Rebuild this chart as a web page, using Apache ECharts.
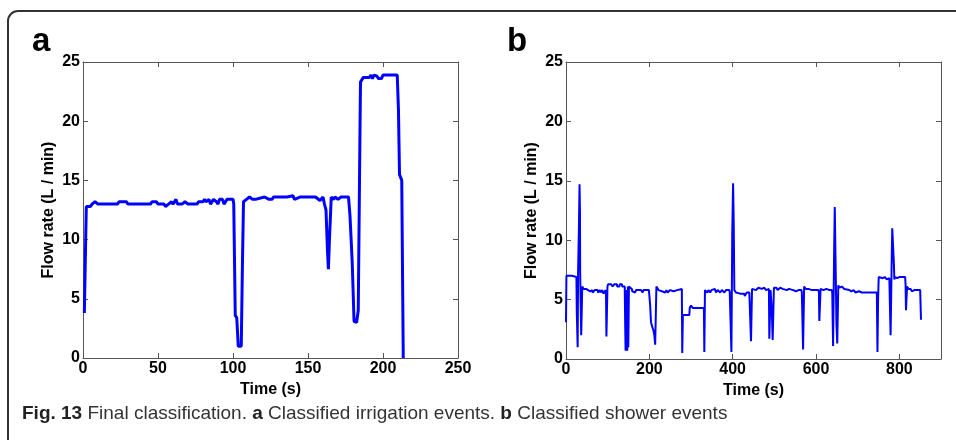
<!DOCTYPE html>
<html>
<head>
<meta charset="utf-8">
<script src="https://cdn.jsdelivr.net/npm/echarts/dist/echarts.min.js"></script>
<style>
html,body{margin:0;padding:0;background:#fff;}
#chart{width:956px;height:440px;}
</style>
</head>
<body>
<div id="chart"></div>
<script>
// ---- Data (panel a: irrigation) ----
const irrigationTime = [
  0.9, 1.5, 2.2, 5, 6, 8, 9, 10, 23, 24,
  29, 30, 45, 46, 49, 50, 54, 55, 57, 59,
  60, 62, 63, 66, 68, 70, 76, 77, 80, 81,
  82, 84, 85, 87, 89, 90, 91, 93, 94, 96,
  100, 100.5, 101.5, 102.5, 103.5, 105.5, 106.3, 107, 109, 111,
  113, 115, 121, 122, 124, 126, 127, 136, 137, 140,
  141, 143, 145, 155, 156, 158, 159, 160, 161, 162,
  163, 163.6, 164.3, 165.5, 167, 168, 170, 172, 177, 178,
  179.5, 180.7, 182.4, 183.5, 184.2, 184.6, 185, 186.9, 191, 192,
  193, 194, 196, 197, 199, 200, 209.5, 210.3, 211, 212.5,
  213.5
];
const irrigationFlow = [
  3.8, 8, 12.8, 12.8, 13.0, 13.2, 13.2, 13.0, 13.0, 13.2,
  13.2, 13.0, 13.0, 13.2, 13.2, 13.0, 13.0, 12.8, 13.0, 13.2,
  13.0, 13.4, 13.0, 13.0, 13.2, 13.0, 13.0, 13.2, 13.2, 13.4,
  13.2, 13.4, 13.0, 13.4, 13.2, 13.0, 13.4, 13.4, 13.0, 13.4,
  13.4, 13.0, 3.6, 3.4, 1.0, 1.0, 8, 13.2, 13.4, 13.6,
  13.4, 13.4, 13.6, 13.6, 13.4, 13.4, 13.6, 13.6, 13.7, 13.7,
  13.4, 13.5, 13.6, 13.6, 13.5, 13.3, 13.4, 13.6, 13.0, 12.5,
  9, 7.5, 10, 13.6, 13.4, 13.6, 13.4, 13.6, 13.6, 12,
  8, 3.1, 3.0, 4.0, 4.0, 18.5, 23.3, 23.7, 23.7, 23.9,
  23.6, 23.9, 23.8, 23.6, 23.6, 23.9, 23.9, 21, 15.5, 15.0,
  0
];

// ---- Data (panel b: shower) ----
const showerTime = [
  0, 1, 14, 15, 25, 26, 28, 29, 31, 32.5,
  33.5, 34, 35.5, 36.5, 38.5, 39, 41, 42, 48, 49,
  53, 54, 58, 59, 63, 64, 68, 69, 76, 77,
  80, 81, 83, 86, 87, 90, 92, 95, 96, 97,
  98.5, 99.5, 101, 105, 108, 112, 116, 122, 123, 128,
  129, 134, 135, 141, 142, 143, 144, 145, 146, 147,
  148.5, 149.5, 151, 153, 158, 159, 162, 166, 168, 173,
  174, 180, 184, 186, 194, 195, 199, 200, 202, 204,
  207, 210, 212, 214, 216, 217, 219, 222, 226, 230,
  234, 238, 241, 244, 250, 251, 258, 259, 267, 268,
  278, 279, 280.5, 296, 297, 300, 303, 304, 331, 332,
  333.5, 338, 339, 342, 346, 349, 353, 357, 360, 364,
  370, 374, 380, 384, 392, 393, 396, 397, 399, 401,
  402.5, 404, 406, 408, 412, 418, 428, 429, 434, 437,
  440, 443, 444, 445.5, 446.5, 450, 456, 462, 470, 476,
  480, 487, 488, 490, 491, 493, 494, 496, 498, 499,
  505, 508, 514, 520, 530, 535, 545, 552, 558, 565,
  566, 568, 569, 570.5, 571.5, 575, 582, 590, 598, 606,
  607, 608, 610, 611, 618, 625, 632, 638, 639, 641,
  642.5, 643.5, 645, 646.5, 647.5, 649, 651, 652.5, 653.5, 656,
  662, 668, 672, 680, 685, 690, 695, 703, 710, 720,
  730, 741, 746, 747.5, 749, 750.5, 760, 765, 770, 776,
  778, 779, 780.5, 782, 783, 785.5, 787, 788, 790, 795,
  800, 814, 815, 816, 817.5, 818.5, 822, 827, 830, 836,
  841, 845, 850, 851, 852
];
const showerFlow = [
  3.1, 7.0, 7.0, 6.9, 6.9, 3.8, 1.0, 7.3, 11, 14.7,
  12.5, 7.3, 7.2, 2.0, 2.0, 6.1, 6.1, 5.9, 5.9, 5.8,
  5.8, 5.7, 5.7, 5.8, 5.8, 5.6, 5.6, 5.8, 5.8, 5.6,
  5.6, 5.8, 5.6, 5.6, 5.8, 5.5, 5.6, 5.8, 5.6, 1.9,
  1.9, 6.1, 6.3, 6.2, 6.3, 6.1, 6.3, 6.3, 6.1, 6.1,
  6.3, 6.3, 6.1, 6.1, 3, 0.7, 5.2, 0.8, 5.8, 0.7,
  6.1, 1.0, 6.1, 6.0, 5.9, 5.7, 5.8, 5.6, 5.8, 5.8,
  5.7, 5.8, 5.6, 5.8, 5.8, 5.9, 5.8, 5.8, 4.5, 3.1,
  2.7, 2.4, 2.0, 1.2, 1.2, 6.1, 6.0, 5.8, 5.9, 5.7,
  5.8, 5.6, 5.8, 5.6, 5.8, 5.7, 5.7, 5.8, 5.8, 5.9,
  5.9, 0.5, 3.7, 3.7, 4.3, 4.5, 4.5, 4.3, 4.3, 0.6,
  5.8, 5.8, 5.6, 5.8, 5.6, 5.8, 5.7, 5.9, 5.6, 5.8,
  5.6, 5.8, 5.6, 5.8, 5.8, 5.6, 5.6, 0.6, 10.5, 14.8,
  11.5, 5.8, 5.8, 5.6, 5.6, 5.5, 5.5, 5.3, 5.6, 5.5,
  5.6, 5.5, 1.5, 1.5, 5.9, 6.0, 5.8, 6.0, 5.9, 6.0,
  5.8, 5.9, 1.7, 1.7, 5.8, 5.9, 4, 1.6, 1.6, 6.0,
  6.0, 5.8, 6.0, 5.9, 5.8, 5.9, 5.8, 5.7, 5.8, 5.8,
  5.6, 5.6, 0.8, 0.8, 6.1, 5.9, 5.9, 5.8, 5.8, 5.8,
  5.6, 3.2, 3.2, 5.9, 5.8, 5.9, 5.8, 5.8, 5.6, 1.1,
  1.1, 9, 12.8, 12.8, 7, 3, 1.3, 1.3, 6.2, 6.0,
  6.1, 5.9, 5.8, 5.8, 5.7, 5.8, 5.6, 5.7, 5.6, 5.6,
  5.6, 5.6, 5.6, 0.6, 5.0, 6.9, 6.8, 6.9, 6.7, 6.8,
  6.8, 2.0, 2.0, 9, 11.0, 11.0, 8, 6.7, 6.9, 6.8,
  6.9, 6.9, 6.2, 4.1, 4.1, 6.1, 5.9, 5.9, 5.7, 5.8,
  5.8, 5.7, 5.8, 5.8, 3.3
];

const xTicksA = {min: 0, max: 250, interval: 50};
const xTicksB = {min: 0, max: 900, interval: 200};
const yTicks = {min: 0, max: 25, interval: 5};

const panelLabels = ['a', 'b'];
const xTitle = 'Time (s)';
const yTitle = 'Flow rate (L / min)';
const caption = '{b|Fig. 13} Final classification. {b|a} Classified irrigation events. {b|b} Classified shower events';

// ---- Build ----
const pair = (xs, ys) => xs.map((x, i) => [x, ys[i]]);
const FONT = 'Liberation Sans, Arial, sans-serif';
const axisCol = '#555';

function xAx(grid, ticks, top) {
  return {
    gridIndex: grid, type: 'value', position: top ? 'top' : 'bottom',
    min: ticks.min, max: ticks.max, interval: ticks.interval,
    axisLine: {show: true, onZero: false, lineStyle: {color: axisCol, width: 1}},
    axisTick: {show: true, inside: true, length: 5, lineStyle: {color: axisCol}},
    splitLine: {show: false},
    axisLabel: top ? {show: false} : {show: true, color: '#000', fontWeight: 'bold', fontSize: 16, fontFamily: FONT, margin: 3, showMaxLabel: ticks.max % ticks.interval === 0},
    name: top ? '' : xTitle, nameLocation: 'middle', nameGap: 23,
    nameTextStyle: {color: '#000', fontWeight: 'bold', fontSize: 16, fontFamily: FONT}
  };
}
function yAx(grid, right) {
  return {
    gridIndex: grid, type: 'value', position: right ? 'right' : 'left',
    min: yTicks.min, max: yTicks.max, interval: yTicks.interval,
    axisLine: {show: true, onZero: false, lineStyle: {color: axisCol, width: 1}},
    axisTick: {show: true, inside: true, length: 5, lineStyle: {color: axisCol}},
    splitLine: {show: false},
    axisLabel: right ? {show: false} : {show: true, color: '#000', fontWeight: 'bold', fontSize: 16, fontFamily: FONT, margin: 3},
    name: right ? '' : yTitle, nameLocation: 'middle', nameGap: 26,
    nameTextStyle: {color: '#000', fontWeight: 'bold', fontSize: 16, fontFamily: FONT}
  };
}

const chart = echarts.init(document.getElementById('chart'), null, {renderer: 'canvas'});
chart.setOption({
  backgroundColor: '#fff',
  animation: false,
  grid: [
    {left: 83, top: 62, width: 375, height: 296, show: false},
    {left: 566, top: 62, width: 375, height: 297, show: false}
  ],
  xAxis: [xAx(0, xTicksA, false), xAx(0, xTicksA, true), xAx(1, xTicksB, false), xAx(1, xTicksB, true)],
  yAxis: [yAx(0, false), yAx(0, true), yAx(1, false), yAx(1, true)],
  series: [
    {type: 'line', xAxisIndex: 0, yAxisIndex: 0, data: pair(irrigationTime, irrigationFlow), showSymbol: false, lineStyle: {color: '#0000ff', width: 3}, silent: true},
    {type: 'line', xAxisIndex: 2, yAxisIndex: 2, data: pair(showerTime, showerFlow), showSymbol: false, lineStyle: {color: '#0000ff', width: 2}, silent: true}
  ],
  graphic: [
    {type: 'rect', shape: {x: 8, y: 11, width: 1000, height: 500, r: 10}, style: {fill: 'none', stroke: '#333', lineWidth: 2}, silent: true},
    {type: 'text', left: 32, top: 25, style: {text: panelLabels[0], fontSize: 33, fontWeight: 'bold', fontFamily: FONT, fill: '#000'}},
    {type: 'text', left: 507, top: 25, style: {text: panelLabels[1], fontSize: 33, fontWeight: 'bold', fontFamily: FONT, fill: '#000'}},
    {type: 'text', left: 22, top: 404, style: {text: caption, fontSize: 19, fontFamily: 'Liberation Sans Narrow, Liberation Sans, sans-serif', fill: '#333', rich: {b: {fontWeight: 'bold', fontSize: 19, fontFamily: 'Liberation Sans Narrow, Liberation Sans, sans-serif', fill: '#222'}}}}
  ]
});
</script>
</body>
</html>
